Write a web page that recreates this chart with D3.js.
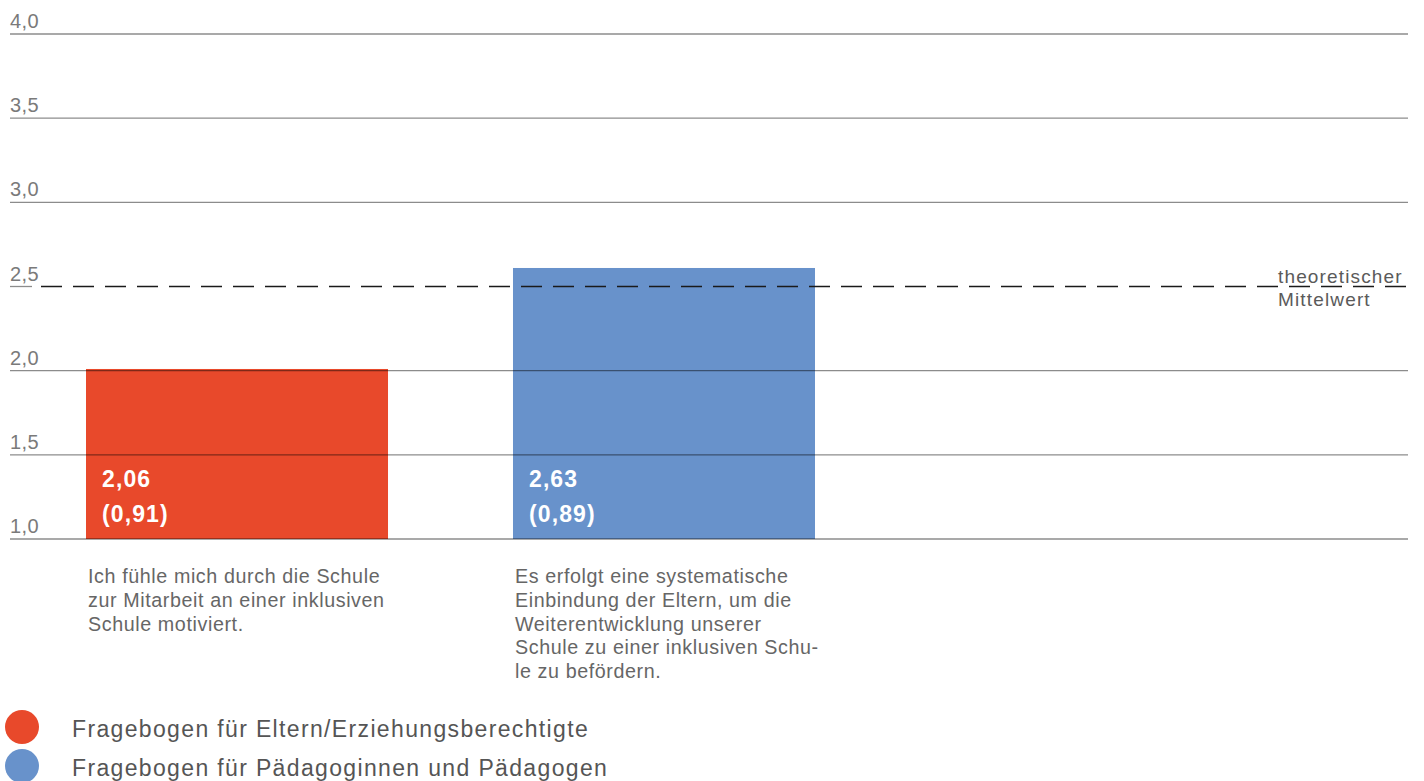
<!DOCTYPE html>
<html>
<head>
<meta charset="utf-8">
<script src="https://cdn.jsdelivr.net/npm/d3@7"></script>
<style>
  html, body { margin: 0; padding: 0; background: #fff; }
  svg { display: block; }
  text { font-family: "Liberation Sans", Arial, sans-serif; }
</style>
</head>
<body>
<svg id="chart" width="1424" height="781"></svg>
<script>
// ---- data ----
const categories = [
  ["Ich fühle mich durch die Schule", "zur Mitarbeit an einer inklusiven", "Schule motiviert."],
  ["Es erfolgt eine systematische", "Einbindung der Eltern, um die", "Weiterentwicklung unserer", "Schule zu einer inklusiven Schu-", "le zu befördern."]
];
const categoryKeys = ["q1", "q2"];
const barValues = [2.01, 2.61];           // bar heights as drawn in the picture
const meanLabels = ["2,06", "2,63"];
const sdLabels = ["(0,91)", "(0,89)"];
const seriesNames = ["Fragebogen für Eltern/Erziehungsberechtigte", "Fragebogen für Pädagoginnen und Pädagogen"];
const seriesColors = ["#E8492B", "#6892CB"];
const yTicks = [1.0, 1.5, 2.0, 2.5, 3.0, 3.5, 4.0];
const tickLabels = ["1,0", "1,5", "2,0", "2,5", "3,0", "3,5", "4,0"];
const meanValue = 2.5;
const meanLabel = ["theoretischer", "Mittelwert"];

// ---- layout ----
const svg = d3.select("#chart");
const y = d3.scaleLinear().domain([1, 4]).range([539, 34]);
const x = d3.scaleBand().domain(categoryKeys).range([86, 815]).paddingInner(0.2927).paddingOuter(0);
const gridLeft = 10, gridRight = 1408;

// bars
svg.append("g").selectAll("rect").data(categoryKeys).join("rect")
  .attr("x", d => x(d))
  .attr("width", x.bandwidth())
  .attr("y", (d, i) => y(barValues[i]))
  .attr("height", (d, i) => y(1) - y(barValues[i]))
  .attr("fill", (d, i) => seriesColors[i]);

// gridlines (over bars)
const grid = svg.append("g");
grid.selectAll("line").data(yTicks).join("line")
  .attr("x1", gridLeft)
  .attr("x2", d => d === meanValue ? 32 : gridRight)
  .attr("y1", d => y(d)).attr("y2", d => y(d))
  .attr("stroke", "rgba(0,0,0,0.45)")
  .attr("stroke-width", 1.3);

// tick labels
grid.selectAll("text").data(yTicks).join("text")
  .attr("x", gridLeft)
  .attr("y", d => y(d) - 6)
  .attr("font-size", 20)
  .attr("letter-spacing", 0.4)
  .attr("fill", "#7a7a7a")
  .text((d, i) => tickLabels[i]);

// dashed mean line
svg.append("line")
  .attr("x1", 41).attr("x2", gridRight)
  .attr("y1", y(meanValue)).attr("y2", y(meanValue))
  .attr("stroke", "#1a1a1a")
  .attr("stroke-width", 1.5)
  .attr("stroke-dasharray", "21 11");

svg.append("text")
  .attr("x", 1278).attr("y", y(meanValue) - 4)
  .attr("font-size", 19).attr("letter-spacing", 1.15).attr("fill", "#5a5a5a")
  .selectAll("tspan").data(meanLabel).join("tspan")
  .attr("x", 1278)
  .attr("dy", (d, i) => i === 0 ? 0 : 23)
  .text(d => d);

// bar value labels
const vl = svg.append("g");
vl.selectAll("text.mean").data(categoryKeys).join("text")
  .attr("class", "mean")
  .attr("x", d => x(d) + 16).attr("y", 487)
  .attr("font-size", 23).attr("font-weight", 700).attr("letter-spacing", 1.1).attr("fill", "#fff")
  .text((d, i) => meanLabels[i]);
vl.selectAll("text.sd").data(categoryKeys).join("text")
  .attr("class", "sd")
  .attr("x", d => x(d) + 16).attr("y", 522)
  .attr("font-size", 23).attr("font-weight", 700).attr("letter-spacing", 1.1).attr("fill", "#fff")
  .text((d, i) => sdLabels[i]);

// category labels
const cl = svg.append("g");
categoryKeys.forEach((k, i) => {
  const t = cl.append("text")
    .attr("x", x(k) + 2).attr("y", 583)
    .attr("font-size", 19.7).attr("letter-spacing", 0.6).attr("fill", "#666");
  t.selectAll("tspan").data(categories[i]).join("tspan")
    .attr("x", x(k) + 2)
    .attr("dy", (d, j) => j === 0 ? 0 : 23.8)
    .text(d => d);
});

// legend
const lg = svg.append("g");
seriesNames.forEach((name, i) => {
  const cy = 727 + i * 39;
  lg.append("circle").attr("cx", 22).attr("cy", cy).attr("r", 17).attr("fill", seriesColors[i]);
  lg.append("text").attr("x", 72).attr("y", cy + 9.5)
    .attr("font-size", 23).attr("letter-spacing", 1.35).attr("fill", "#555")
    .text(name);
});
</script>
</body>
</html>
